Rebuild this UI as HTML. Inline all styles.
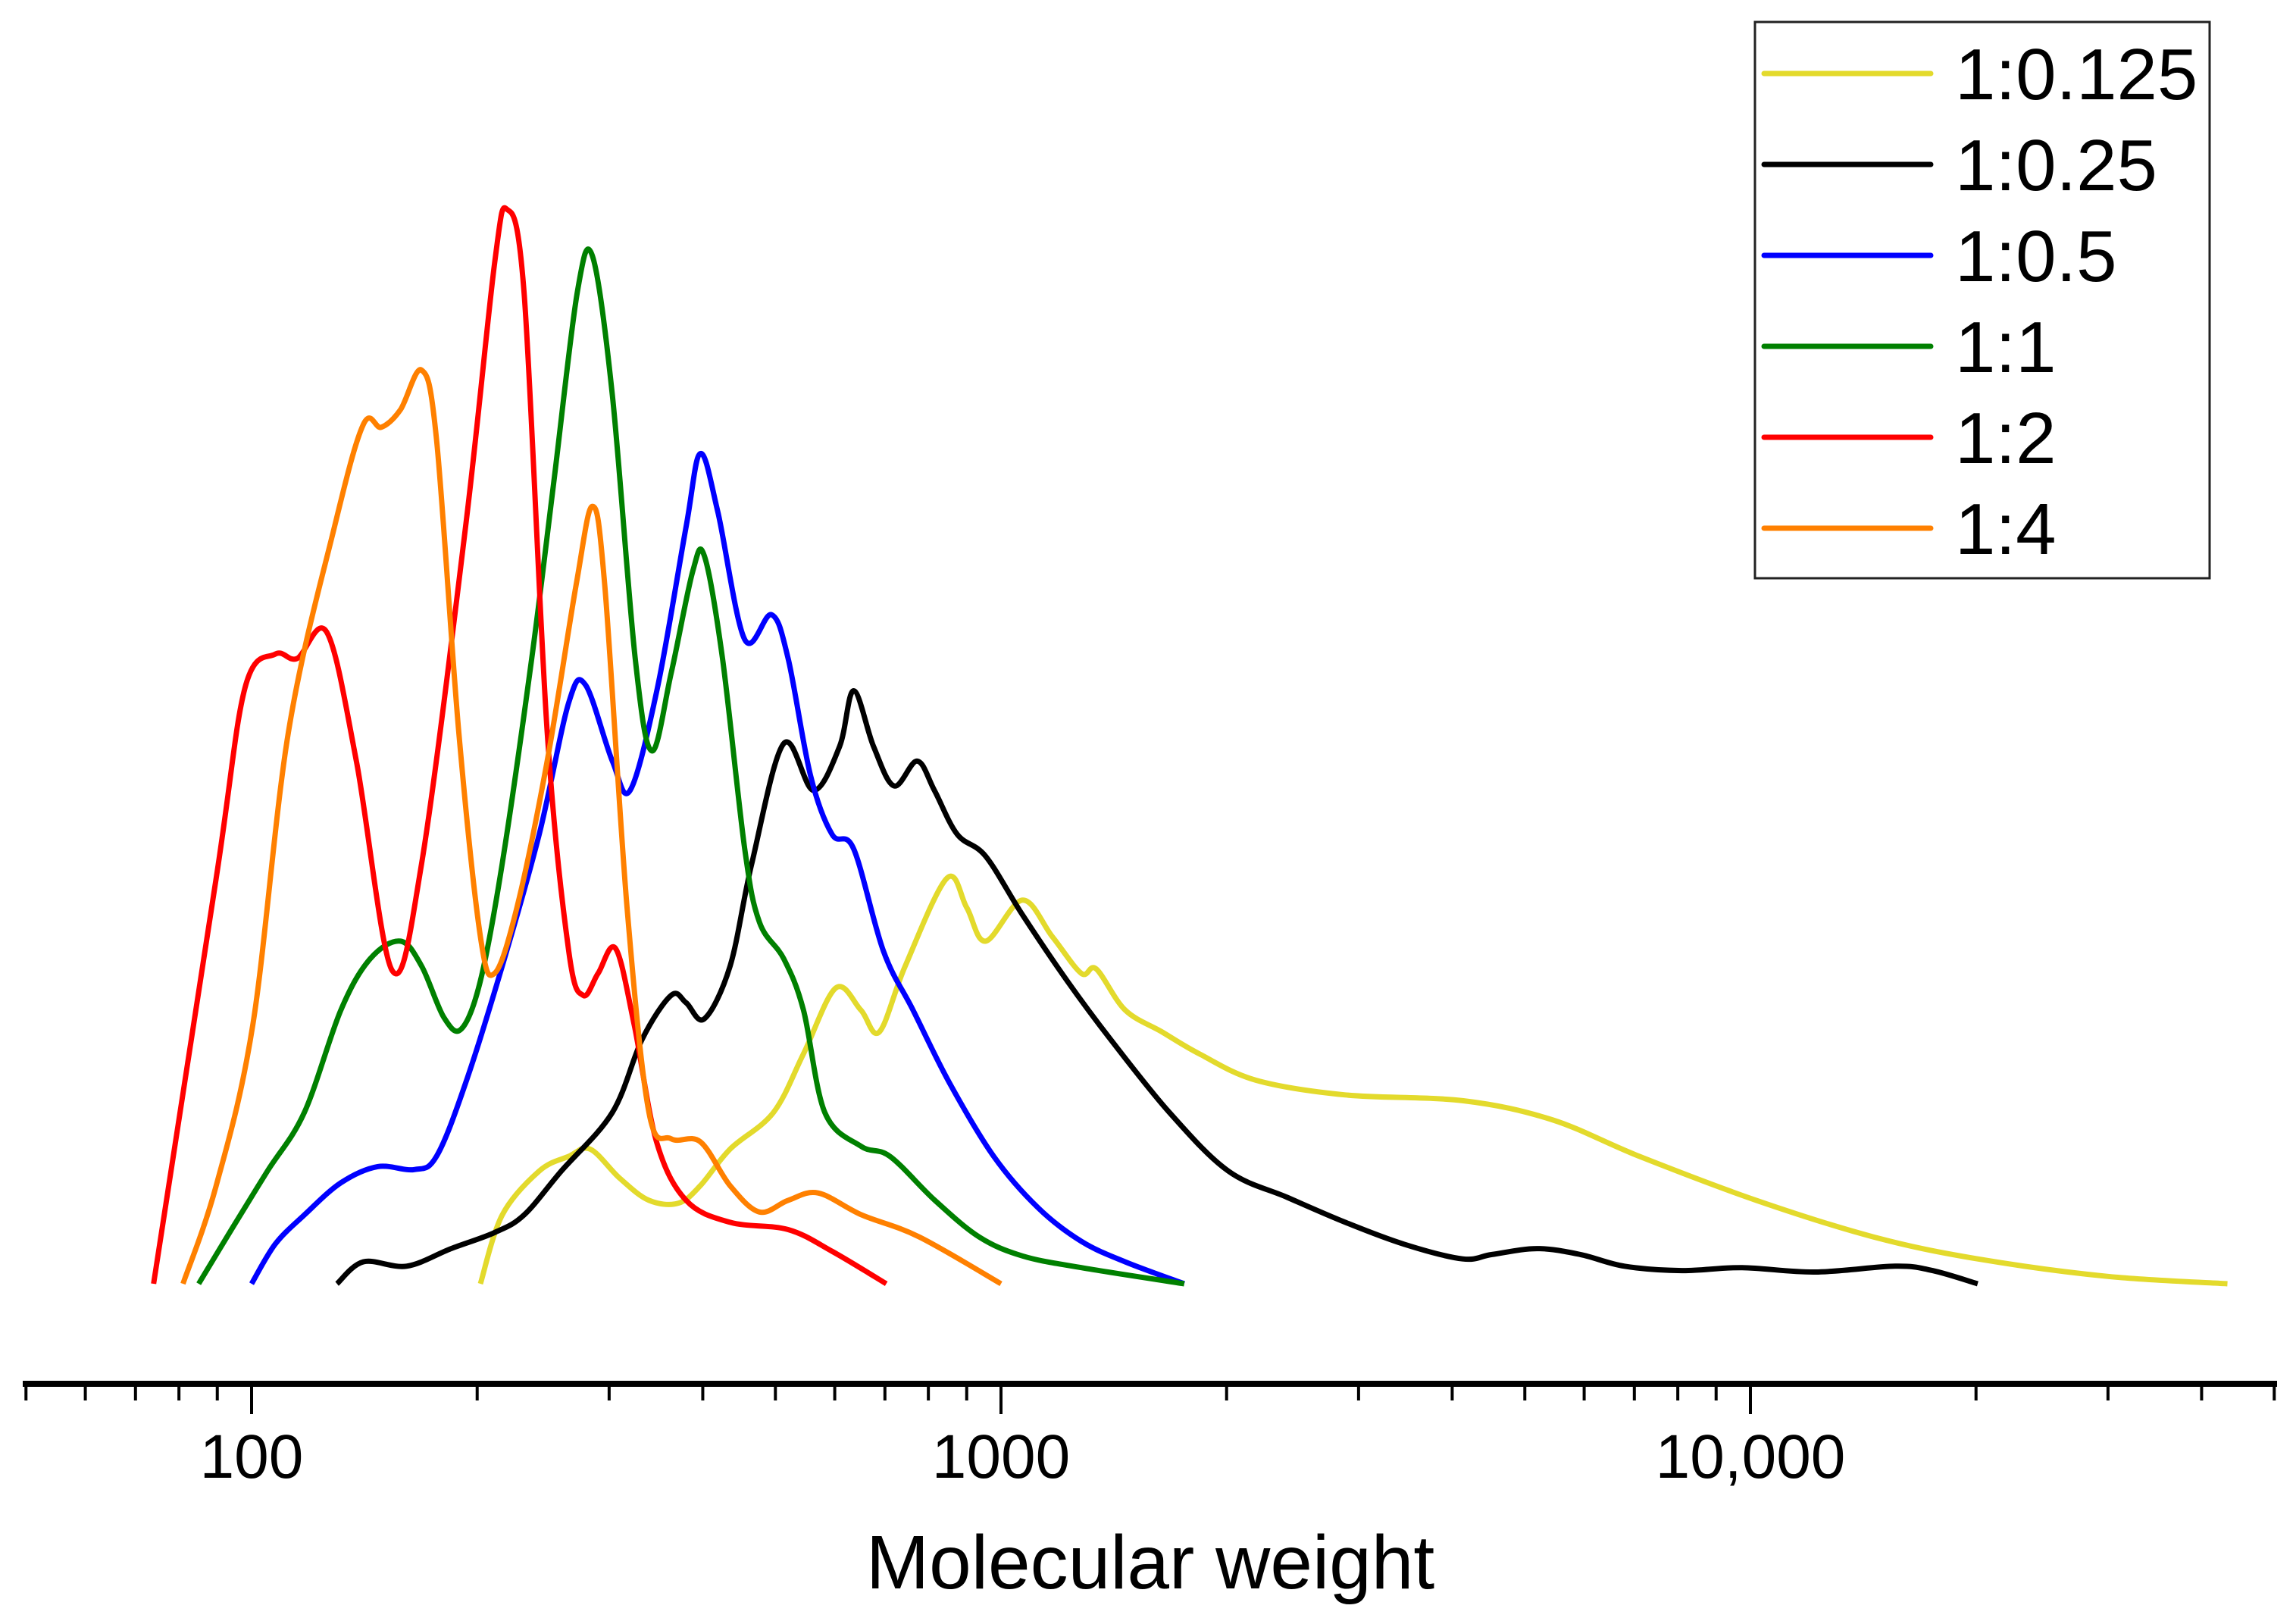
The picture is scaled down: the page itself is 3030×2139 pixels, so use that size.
<!DOCTYPE html>
<html><head><meta charset="utf-8"><style>
html,body{margin:0;padding:0;background:#fff}
svg{display:block}
text{font-family:"Liberation Sans",Arial,sans-serif}
</style></head><body>
<svg id="chart" width="3030" height="2139" viewBox="0 0 3030 2139" xmlns="http://www.w3.org/2000/svg">
<g id="axis"></g>
<g id="series"></g>
<text x="1518" y="2096" font-size="100" text-anchor="middle">Molecular weight</text>
<g id="legend">
<rect x="2316" y="29" width="600" height="734" fill="#fff" stroke="#222" stroke-width="3"/>
</g>
</svg>
<script>
const seriesNames = ["1:0.125","1:0.25","1:0.5","1:1","1:2","1:4"];
const seriesColors = ["#e3da2c","#000000","#0000ff","#008000","#ff0000","#ff8000"];
const mw125 = [202,216,242,265,283,310,339,371,397,435,497,545,602,650,688,745,847,900,954,1068,1171,1280,1340,1464,1640,1840,2190,2880,4140,5440,7110,10180,14600,20100,30000,43300];
const int125 = [0,47,77,87,92,72,57,55,67,92,117,157,202,187,172,217,277,257,234,262,237,212,215,187,172,157,139,129,125,112,87,57,32,17,5,0];
const mw25 = [130,141,161,184.6,211,231,259,303,332,363,380,402,435,465,513,562,609,636,676,720,773,815,874,954,1068,1225,1400,1678,2010,2410,2880,3450,4130,4520,5190,5930,6790,8100,9750,12200,15600,17500,20100];
const int25 = [0,15,12,24,35,47,77,117,167,197,192,181,217,287,369,337,367,405,367,340,357,337,307,292,252,207,167,117,77,59,42,27,17,20,24,20,12,9,11,8,12,9,0];
const mw05 = [100,107.5,117.6,131.6,147.3,164.9,176.5,193,216,242,265,279,303,320,348,380,397,419,455,494,520,557,595,636,697,763,854,978,1120,1280,1464,1756];
const int05 = [0,27,47,69,80,78,87,137,217,307,397,409,357,337,407,517,567,527,440,457,427,347,307,297,227,187,137,87,52,29,15,0];
const mw1 = [85,94,105,117.6,131.6,144,158,168.6,180.5,190.5,202,216,236.5,253,272,285,303,325,342,363,388,402,425,455,476,513,545,582,650,711,816,935,1068,1280,1756];
const int1 = [0,37,77,117,187,222,234,217,182,174,207,287,427,547,677,702,607,427,364,417,487,497,427,297,247,222,187,117,94,87,57,32,19,11,0];
const mw2 = [74,89.7,98,107.5,115,126,138,154,168.6,193,211,219,231,248,265,277,290,306,324,347,380,435,520,596,703];
const int2 = [0,277,407,430,427,445,357,214,287,517,697,734,677,377,227,197,212,229,177,97,57,42,37,22,0];
const mw4 = [81,89.7,100.4,112,129,141,149,158,168.6,176.5,189,202,211,226,248,271,285,296,317,339,363,397,435,476,520,570,652,778,1000];
const int4 = [0,67,177,377,517,587,585,597,624,577,377,237,212,257,357,477,531,477,257,117,99,97,67,49,57,62,47,32,0];
const tickMajor = [100,1000,10000];
const tickLabels = ["100","1000","10,000"];
const NS="http://www.w3.org/2000/svg";
const xPix = v => 332 + (Math.log10(v)-2)*989;
const yPix = v => 1694 - v*1.932;
function mk(tag,attrs,parent){const e=document.createElementNS(NS,tag);for(const k in attrs)e.setAttribute(k,attrs[k]);parent.appendChild(e);return e;}
const ax=document.getElementById('axis');
const axl=mk('line',{x1:30,y1:1826,x2:3005,y2:1826,stroke:'#000','stroke-width':8},ax);


for(let d=10;d<=10000;d*=10){for(let m=1;m<10;m++){const v=d*m;if(v<50||v>50000)continue;const px=xPix(v);const major=(m===1);
const t=mk('line',{x1:px,y1:1826,x2:px,y2:major?1866:1848,stroke:'#000','stroke-width':4},ax);

}}
tickMajor.forEach((v,i)=>{const t=mk('text',{x:xPix(v),y:1950,'font-size':82,'text-anchor':'middle'},ax);t.textContent=tickLabels[i];

});
function pathD(xs,ys){const p=xs.map((x,i)=>[xPix(x),yPix(ys[i])]);let d='M'+p[0][0].toFixed(1)+','+p[0][1].toFixed(1);
for(let i=0;i<p.length-1;i++){const p0=p[Math.max(0,i-1)],p1=p[i],p2=p[i+1],p3=p[Math.min(p.length-1,i+2)];const k=1/6;
const c1=[p1[0]+(p2[0]-p0[0])*k,p1[1]+(p2[1]-p0[1])*k],c2=[p2[0]-(p3[0]-p1[0])*k,p2[1]-(p3[1]-p1[1])*k];
d+=' C'+c1.map(n=>n.toFixed(1)).join(',')+' '+c2.map(n=>n.toFixed(1)).join(',')+' '+p2.map(n=>n.toFixed(1)).join(',');}return d;}
const sg=document.getElementById('series');
const data=[[mw125,int125],[mw25,int25],[mw05,int05],[mw1,int1],[mw2,int2],[mw4,int4]];
const drawOrder=[0,1,2,3,4,5];
drawOrder.forEach(i=>{const pth=mk('path',{d:pathD(data[i][0],data[i][1]),fill:'none',stroke:seriesColors[i],'stroke-width':7,'stroke-linejoin':'round'},sg);

});
const lg=document.getElementById('legend');
seriesNames.forEach((n,i)=>{const y=97+i*120;
const l=mk('line',{x1:2328,y1:y,x2:2548,y2:y,stroke:seriesColors[i],'stroke-width':7,'stroke-linecap':'round'},lg);


const t=mk('text',{x:2580,y:y+34,'font-size':96},lg);t.textContent=n;

});
</script>
</body></html>
